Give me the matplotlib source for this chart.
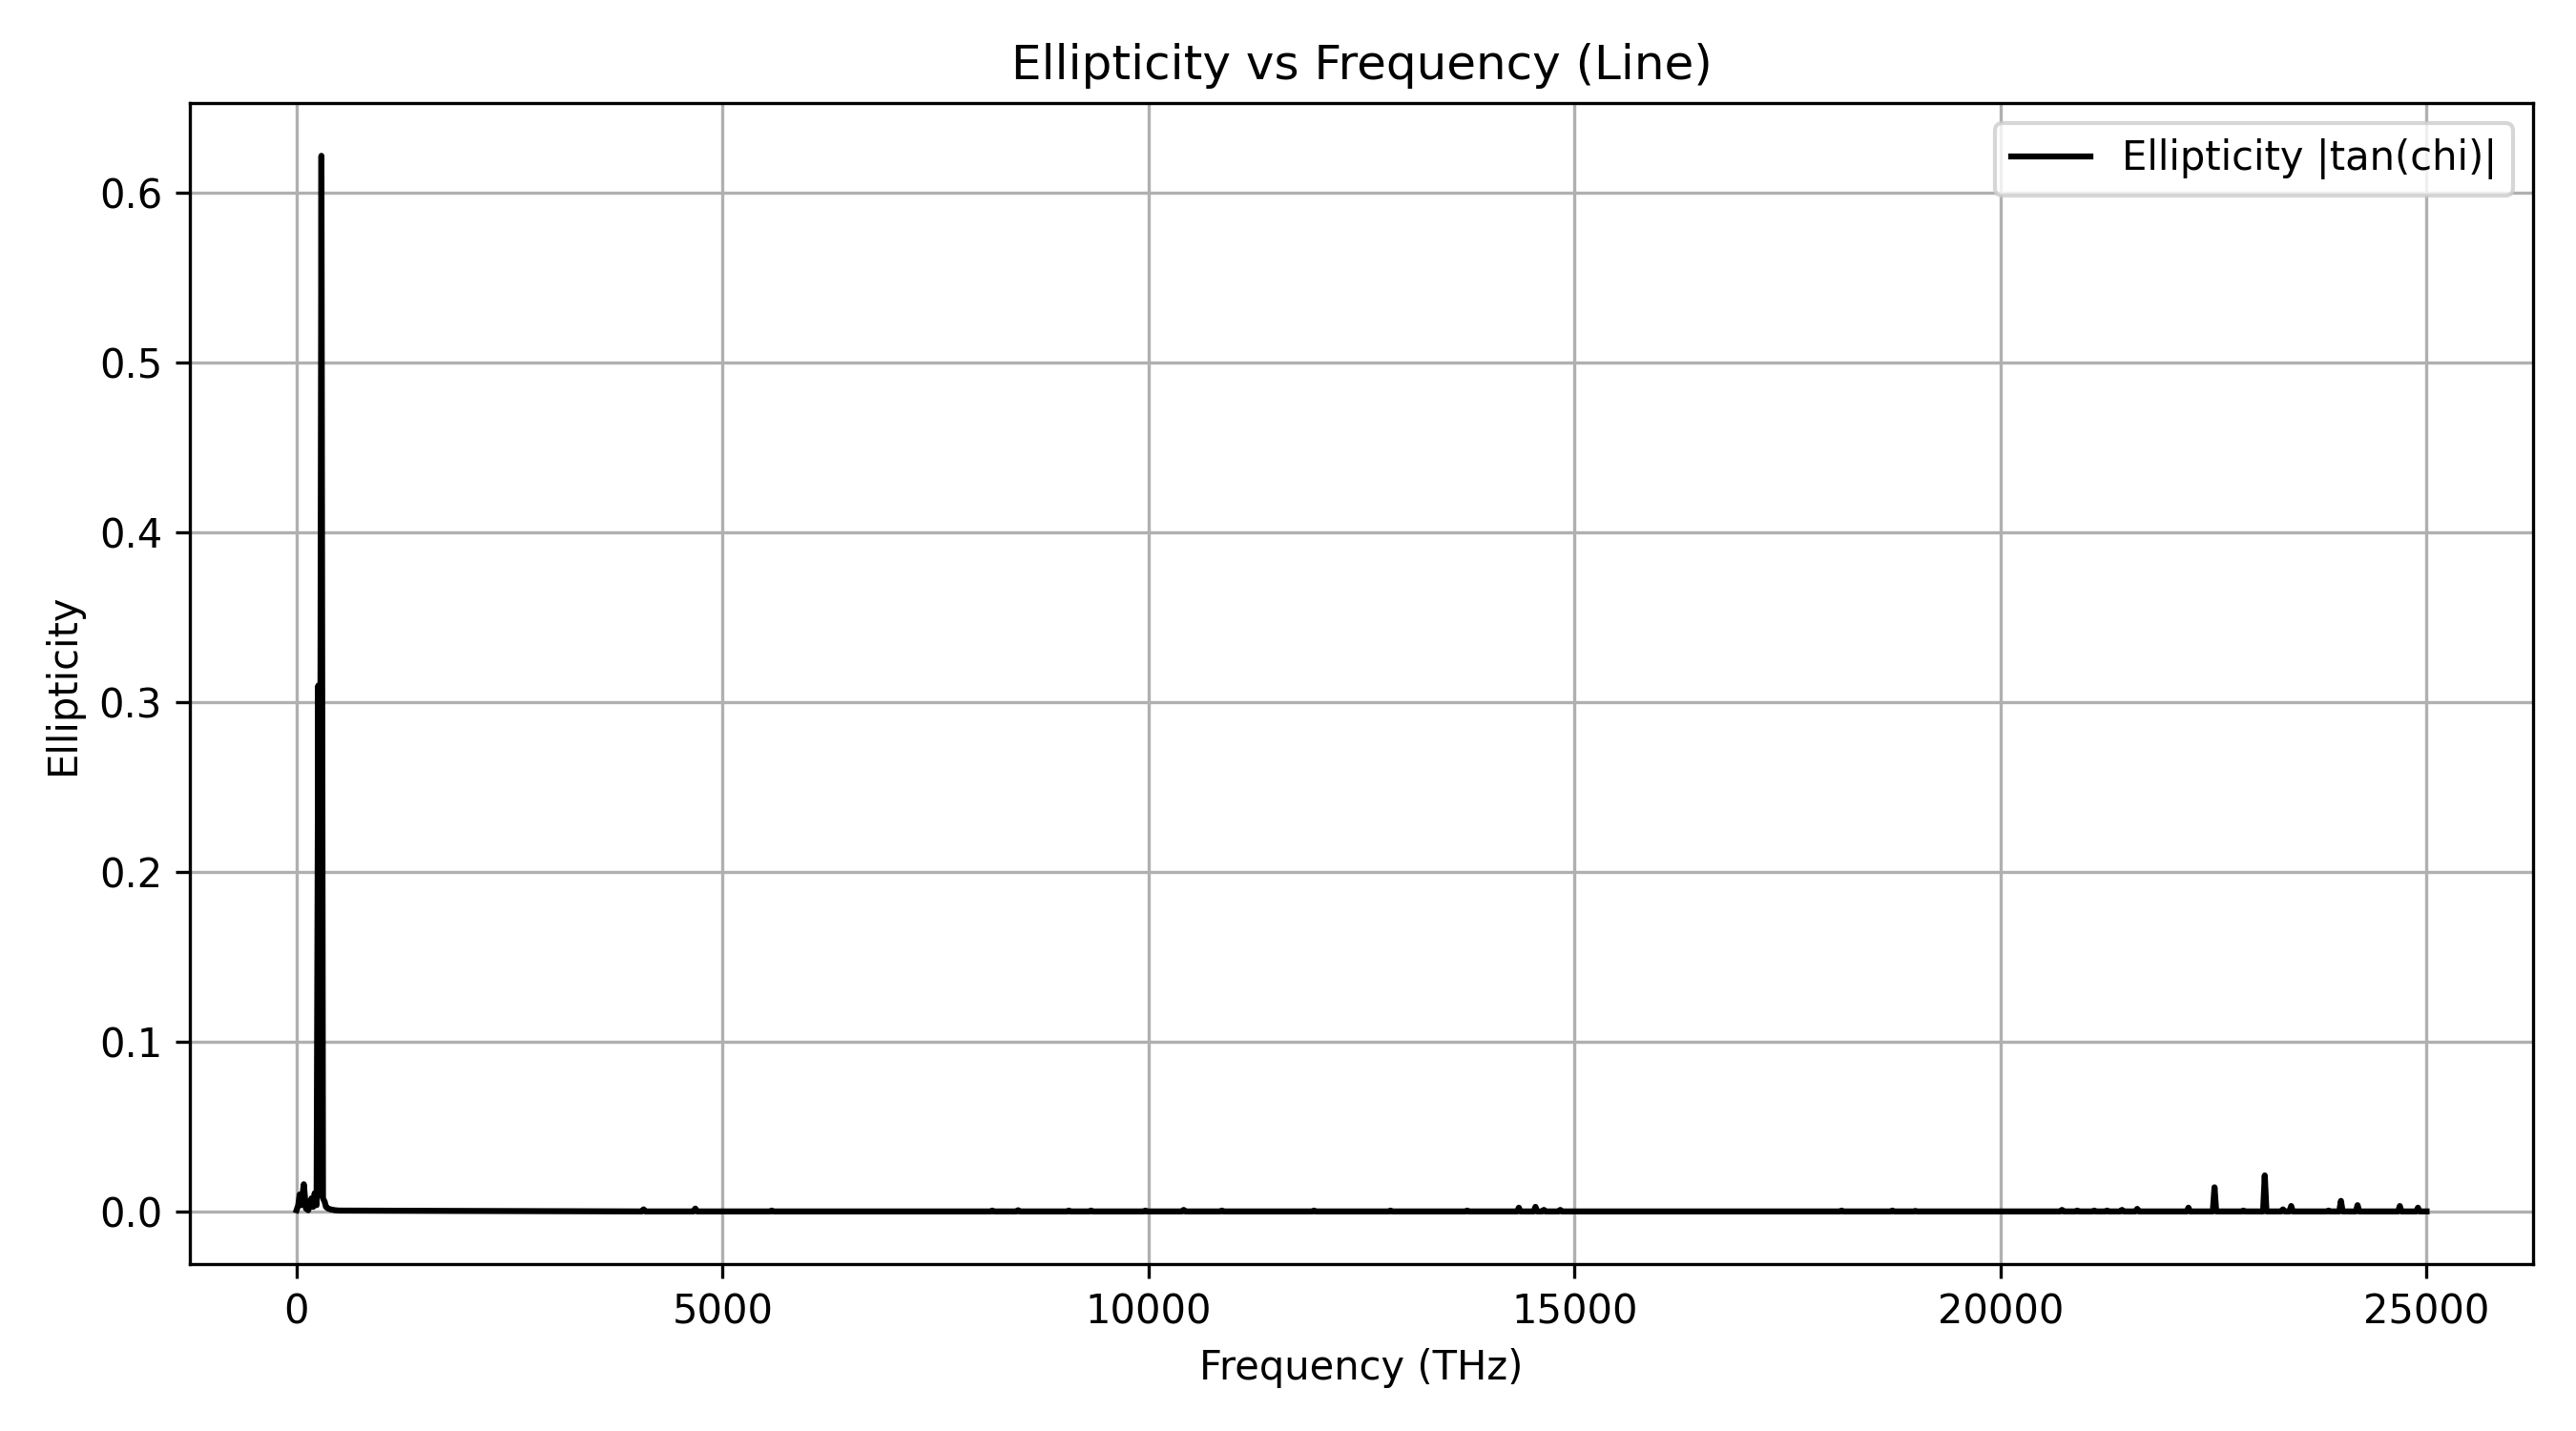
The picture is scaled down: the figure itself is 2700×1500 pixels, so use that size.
import numpy as np
import matplotlib.pyplot as plt

# low-frequency region (THz) with the main resonance
low_freq = [0, 20, 37, 55, 85, 110, 137, 175, 195, 212, 235, 255, 270, 292, 310,
            330, 345, 370, 400, 450, 500]
low_vals = [0.001, 0.004, 0.0103, 0.004, 0.0163, 0.002, 0.001, 0.008, 0.003, 0.011,
            0.004, 0.31, 0.01, 0.622, 0.008, 0.006, 0.003, 0.002, 0.0015, 0.001, 0.0008]

# isolated small spikes across the rest of the band
spike_freq = [4073, 4680, 5577, 8166, 8469, 9064, 9325, 9963, 10412, 10861, 11942,
              12840, 13740, 14346, 14541, 14640, 14832, 18134, 18730, 19000, 20721,
              20900, 21100, 21250, 21425, 21604, 22205, 22511, 22850, 23101, 23314,
              23411, 23850, 23995, 24190, 24686, 24899]
spike_vals = [0.0015, 0.002, 0.0008, 0.0008, 0.001, 0.0008, 0.0008, 0.0008, 0.0012,
              0.0008, 0.0008, 0.0008, 0.0008, 0.0025, 0.003, 0.0012, 0.0012, 0.0008,
              0.0008, 0.0006, 0.0012, 0.0008, 0.0008, 0.0008, 0.0012, 0.0018, 0.0025,
              0.0145, 0.0008, 0.0215, 0.0015, 0.0035, 0.0008, 0.0065, 0.004, 0.0035,
              0.0025]

baseline = 0.0003
f_end = 25000
half_w = 20

freq = list(low_freq)
vals = list(low_vals)
for f, v in zip(spike_freq, spike_vals):
    freq += [f - half_w, f, f + half_w]
    vals += [baseline, v, baseline]
freq.append(f_end)
vals.append(baseline)

order = np.argsort(freq)
freq = np.array(freq)[order]
vals = np.array(vals)[order]

plt.figure(figsize=(9, 5), dpi=300)
plt.plot(freq, vals, color='black', label='Ellipticity |tan(chi)|')
plt.title('Ellipticity vs Frequency (Line)')
plt.xlabel('Frequency (THz)')
plt.ylabel('Ellipticity')
plt.grid(True)
plt.legend(loc='upper right')
plt.tight_layout()
plt.savefig('out.png', dpi=300)
